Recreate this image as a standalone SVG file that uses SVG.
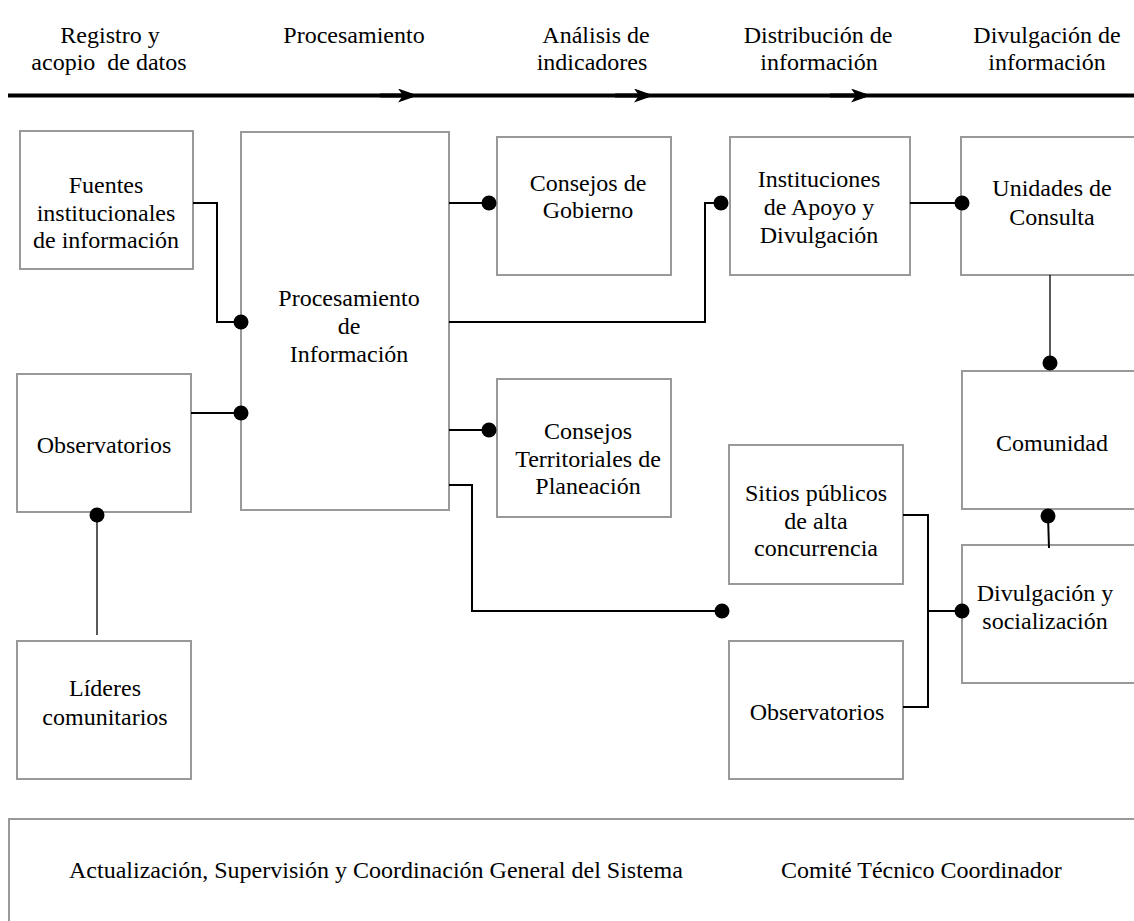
<svg xmlns="http://www.w3.org/2000/svg" width="1134" height="921" viewBox="0 0 1134 921" font-family="'Liberation Serif', 'Times New Roman', serif">
<defs>
<style>
text{font-family:"Liberation Serif","Times New Roman",serif;font-size:24px;fill:#000;text-anchor:middle}
.box{fill:#fff;stroke:#999;stroke-width:2}
.c{fill:none;stroke:#000;stroke-width:2}
.t{fill:none;stroke:#000;stroke-width:1.3}
.d{fill:#000}
.lt{text-anchor:start}
</style>
<marker id="ah" viewBox="0 0 20 14" refX="14" refY="7" markerWidth="20" markerHeight="14" markerUnits="userSpaceOnUse" orient="auto">
<path d="M0,0 L20,7 L0,14 L5,7 Z" fill="#000"/>
</marker>
</defs>
<rect width="1134" height="921" fill="#fff"/>

<g id="timeline">
<text x="110" y="43">Registro y</text>
<text x="109" y="70" xml:space="preserve">acopio  de datos</text>
<text x="354" y="43">Procesamiento</text>
<text x="596" y="43">Análisis de</text>
<text x="592" y="70">indicadores</text>
<text x="818" y="43">Distribución de</text>
<text x="819" y="70">información</text>
<text x="1047" y="43">Divulgación de</text>
<text x="1047" y="70">información</text>
<path d="M8,95.5 H1134" stroke="#000" stroke-width="4" fill="none"/>
<path d="M380,95.5 H412" stroke="#000" stroke-width="4" fill="none" marker-end="url(#ah)"/>
<path d="M615,95.5 H648" stroke="#000" stroke-width="4" fill="none" marker-end="url(#ah)"/>
<path d="M830,95.5 H865" stroke="#000" stroke-width="4" fill="none" marker-end="url(#ah)"/>
</g>

<g id="n-fuentes">
<rect class="box" x="20" y="131" width="173" height="138"/>
<text x="106" y="193">Fuentes</text>
<text x="106" y="221">institucionales</text>
<text x="106" y="248">de información</text>
</g>
<g id="n-procesamiento">
<rect class="box" x="241" y="132" width="208" height="378"/>
<text x="349" y="306">Procesamiento</text>
<text x="349" y="334">de</text>
<text x="349" y="362">Información</text>
</g>
<g id="n-observatorios1">
<rect class="box" x="17" y="374" width="174" height="138"/>
<text x="104" y="453">Observatorios</text>
</g>
<g id="n-lideres">
<rect class="box" x="17" y="641" width="174" height="138"/>
<text x="105" y="696">Líderes</text>
<text x="105" y="725">comunitarios</text>
</g>
<g id="n-consejos-gobierno">
<rect class="box" x="497" y="137" width="174" height="138"/>
<text x="588" y="191">Consejos de</text>
<text x="588" y="218">Gobierno</text>
</g>
<g id="n-consejos-territoriales">
<rect class="box" x="497" y="379" width="174" height="138"/>
<text x="588" y="439">Consejos</text>
<text x="588" y="467">Territoriales de</text>
<text x="588" y="494">Planeación</text>
</g>
<g id="n-instituciones">
<rect class="box" x="730" y="137" width="180" height="138"/>
<text x="819" y="187">Instituciones</text>
<text x="819" y="215">de Apoyo y</text>
<text x="819" y="243">Divulgación</text>
</g>
<g id="n-unidades">
<rect class="box" x="961" y="137" width="190" height="138"/>
<text x="1052" y="196">Unidades de</text>
<text x="1052" y="225">Consulta</text>
</g>
<g id="n-comunidad">
<rect class="box" x="962" y="371" width="190" height="138"/>
<text x="1052" y="451">Comunidad</text>
</g>
<g id="n-sitios">
<rect class="box" x="729" y="445" width="174" height="139"/>
<text x="816" y="501">Sitios públicos</text>
<text x="816" y="529">de alta</text>
<text x="816" y="556">concurrencia</text>
</g>
<g id="n-observatorios2">
<rect class="box" x="729" y="641" width="174" height="138"/>
<text x="817" y="720">Observatorios</text>
</g>
<g id="n-divulgacion">
<rect class="box" x="962" y="545" width="190" height="138"/>
<text x="1045" y="601">Divulgación y</text>
<text x="1045" y="629">socialización</text>
</g>
<g id="n-comite">
<rect class="box" x="9" y="819" width="1140" height="120"/>
<text class="lt" x="69" y="878">Actualización, Supervisión y Coordinación General del Sistema</text>
<text class="lt" x="781" y="878">Comité Técnico Coordinador</text>
</g>

<g id="connectors">
<path class="c" d="M193,203 H217 V322 H241"/>
<circle class="d" cx="241" cy="322" r="7.5"/>
<path class="c" d="M191,413 H241"/>
<circle class="d" cx="241" cy="413" r="7.5"/>
<path class="t" d="M97,515 V635"/>
<circle class="d" cx="97" cy="515" r="7.5"/>
<path class="c" d="M449,203 H489"/>
<circle class="d" cx="489" cy="203" r="7.5"/>
<path class="c" d="M449,430 H489"/>
<circle class="d" cx="489" cy="430" r="7.5"/>
<path class="c" d="M449,322 H705 V203 H721"/>
<circle class="d" cx="721" cy="203" r="7.5"/>
<path class="c" d="M910,203 H962"/>
<circle class="d" cx="962" cy="203" r="7.5"/>
<path class="t" d="M1050,275 V363"/>
<circle class="d" cx="1050" cy="363" r="7.5"/>
<path class="c" d="M449,485 H472 V611 H722"/>
<circle class="d" cx="722" cy="611" r="7.5"/>
<path class="c" d="M903,515 H928 V707 H903 M928,611 H962"/>
<circle class="d" cx="962" cy="611" r="7.5"/>
<path class="c" d="M1048,516 L1049,548"/>
<circle class="d" cx="1048" cy="516" r="7.5"/>
</g>
</svg>
